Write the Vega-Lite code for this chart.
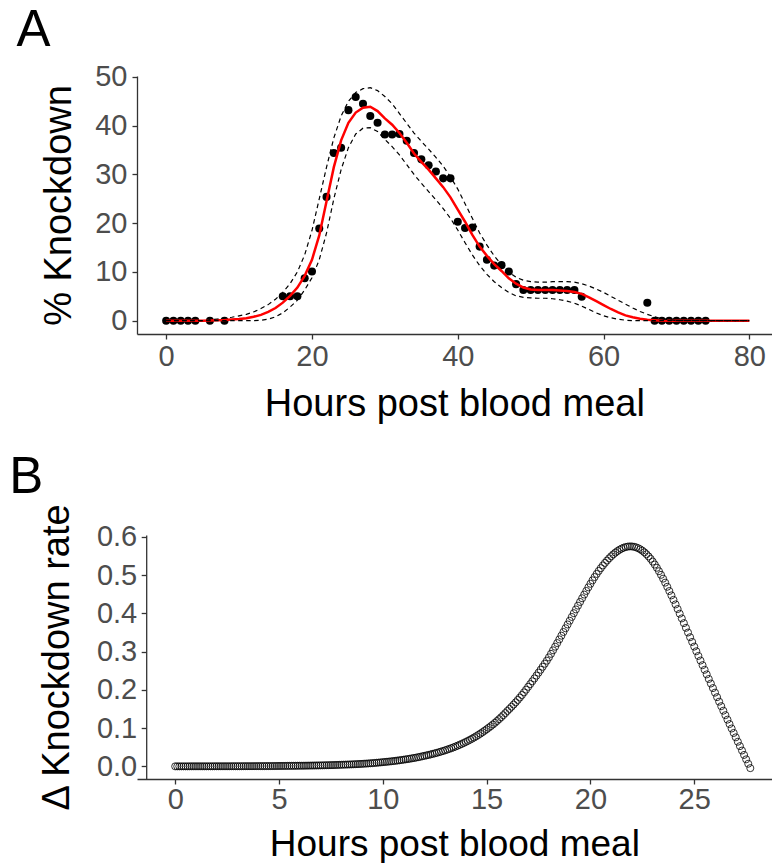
{
"$schema": "https://vega.github.io/schema/vega-lite/v6.json",
"background": "white",
"padding": {"left": 9, "top": 4, "right": 0, "bottom": 0},
"spacing": 28,
"config": {
 "view": {"stroke": null},
 "axis": {"labelFont": "Liberation Sans", "titleFont": "Liberation Sans", "labelFontSize": 29, "titleFontSize": 38, "titleFontWeight": "normal", "labelColor": "#4d4d4d", "titleColor": "#000000", "domainColor": "#333333", "tickColor": "#333333", "domainWidth": 1.3, "tickWidth": 1.3, "tickSize": 5, "grid": false, "labelOverlap": false, "labelFlush": false}
},
"datasets": {
 "kd_obs": [
  {"h":0,"kd":0},{"h":1,"kd":0},{"h":2,"kd":0},{"h":3,"kd":0},{"h":4,"kd":0},{"h":6,"kd":0},{"h":8,"kd":0},
  {"h":16,"kd":5},{"h":17,"kd":5},{"h":18,"kd":5},{"h":19,"kd":8.7},{"h":20,"kd":10.1},{"h":21,"kd":18.9},{"h":22,"kd":25.4},
  {"h":23,"kd":34.4},{"h":24,"kd":35.5},{"h":25,"kd":43.2},{"h":26,"kd":45.9},{"h":27,"kd":44.5},{"h":28,"kd":42},{"h":29,"kd":40.6},
  {"h":30,"kd":38.2},{"h":31,"kd":38.2},{"h":32,"kd":38.3},{"h":33,"kd":36.9},{"h":34,"kd":34.4},{"h":35,"kd":33.1},{"h":36,"kd":31.9},
  {"h":37,"kd":30.6},{"h":38,"kd":29.2},{"h":39,"kd":29.2},{"h":40,"kd":20.3},{"h":41,"kd":19.0},{"h":42,"kd":19.1},{"h":43,"kd":15.2},
  {"h":44,"kd":12.5},{"h":45,"kd":11.3},{"h":46,"kd":11.4},{"h":47,"kd":10.1},{"h":48,"kd":7.5},{"h":49,"kd":6.3},{"h":50,"kd":6.3},
  {"h":51,"kd":6.3},{"h":52,"kd":6.3},{"h":53,"kd":6.3},{"h":54,"kd":6.3},{"h":55,"kd":6.3},{"h":56,"kd":6.3},{"h":57,"kd":4.9},
  {"h":66,"kd":3.7},{"h":67,"kd":0},{"h":68,"kd":0},{"h":69,"kd":0},{"h":70,"kd":0},{"h":71,"kd":0},{"h":72,"kd":0},{"h":73,"kd":0},{"h":74,"kd":0}
 ],
 "kd_fit": [
  {"h":0,"fit":0,"lo":0,"hi":0},{"h":1,"fit":0,"lo":0,"hi":0},{"h":2,"fit":0,"lo":0,"hi":0},{"h":3,"fit":0,"lo":0,"hi":0},
  {"h":4,"fit":0,"lo":0,"hi":0},{"h":5,"fit":0,"lo":0,"hi":0},{"h":6,"fit":0.05,"lo":0,"hi":0.2},{"h":7,"fit":0.1,"lo":0,"hi":0.35},
  {"h":8,"fit":0.15,"lo":0,"hi":0.5},{"h":9,"fit":0.25,"lo":0,"hi":0.7},{"h":10,"fit":0.35,"lo":0,"hi":1.0},{"h":11,"fit":0.5,"lo":0,"hi":1.3},
  {"h":12,"fit":0.8,"lo":0,"hi":1.8},{"h":13,"fit":1.2,"lo":0.1,"hi":2.5},{"h":14,"fit":1.8,"lo":0.3,"hi":3.3},{"h":15,"fit":2.6,"lo":0.8,"hi":4.4},
  {"h":16,"fit":3.7,"lo":1.6,"hi":5.8},{"h":17,"fit":5.1,"lo":2.8,"hi":7.6},{"h":18,"fit":6.8,"lo":4.2,"hi":10.0},{"h":19,"fit":9.2,"lo":6.3,"hi":13.5},
  {"h":20,"fit":12.5,"lo":8.8,"hi":18.5},{"h":21,"fit":17.5,"lo":12.5,"hi":25},{"h":22,"fit":24.5,"lo":18,"hi":31.5},{"h":23,"fit":31.5,"lo":25,"hi":37.5},
  {"h":24,"fit":37,"lo":31,"hi":42},{"h":25,"fit":40.6,"lo":35.5,"hi":45},{"h":26,"fit":42.7,"lo":38.3,"hi":46.8},{"h":27,"fit":43.7,"lo":39.5,"hi":47.6},
  {"h":28,"fit":43.9,"lo":39.6,"hi":47.8},{"h":29,"fit":43,"lo":38.8,"hi":47.2},{"h":30,"fit":41.5,"lo":37.2,"hi":46},{"h":31,"fit":40.2,"lo":35.7,"hi":44.5},
  {"h":32,"fit":38.5,"lo":34,"hi":42.5},{"h":33,"fit":36.5,"lo":32,"hi":40.5},{"h":34,"fit":34.3,"lo":30,"hi":38.5},{"h":35,"fit":32.6,"lo":28.2,"hi":36.8},
  {"h":36,"fit":31.0,"lo":26.5,"hi":35.2},{"h":37,"fit":29.2,"lo":24.8,"hi":33.5},{"h":38,"fit":27.4,"lo":23,"hi":31.7},{"h":39,"fit":25.3,"lo":21,"hi":29.5},
  {"h":40,"fit":22.8,"lo":18.6,"hi":27},{"h":41,"fit":20.3,"lo":16,"hi":24},{"h":42,"fit":17.6,"lo":13.5,"hi":21},{"h":43,"fit":15.2,"lo":11.3,"hi":18},
  {"h":44,"fit":13.3,"lo":9.5,"hi":15.5},{"h":45,"fit":11.6,"lo":8.0,"hi":13.3},{"h":46,"fit":10.2,"lo":6.8,"hi":11.5},{"h":47,"fit":8.7,"lo":5.8,"hi":10},
  {"h":48,"fit":7.6,"lo":5.1,"hi":8.9},{"h":49,"fit":6.8,"lo":4.8,"hi":8.3},{"h":50,"fit":6.4,"lo":4.7,"hi":8.0},{"h":51,"fit":6.3,"lo":4.6,"hi":7.9},
  {"h":52,"fit":6.3,"lo":4.6,"hi":7.9},{"h":53,"fit":6.3,"lo":4.5,"hi":8.0},{"h":54,"fit":6.2,"lo":4.3,"hi":8.0},{"h":55,"fit":6.1,"lo":4.0,"hi":8.0},
  {"h":56,"fit":5.9,"lo":3.6,"hi":7.9},{"h":57,"fit":5.5,"lo":3.0,"hi":7.6},{"h":58,"fit":4.8,"lo":2.3,"hi":7.1},{"h":59,"fit":4.0,"lo":1.6,"hi":6.5},
  {"h":60,"fit":3.2,"lo":1.0,"hi":5.8},{"h":61,"fit":2.4,"lo":0.6,"hi":5.0},{"h":62,"fit":1.7,"lo":0.3,"hi":4.2},{"h":63,"fit":1.1,"lo":0.1,"hi":3.4},
  {"h":64,"fit":0.7,"lo":0,"hi":2.6},{"h":65,"fit":0.4,"lo":0,"hi":1.9},{"h":66,"fit":0.2,"lo":0,"hi":1.3},{"h":67,"fit":0.1,"lo":0,"hi":0.8},
  {"h":68,"fit":0,"lo":0,"hi":0.4},{"h":69,"fit":0,"lo":0,"hi":0.2},{"h":70,"fit":0,"lo":0,"hi":0},{"h":71,"fit":0,"lo":0,"hi":0},
  {"h":72,"fit":0,"lo":0,"hi":0},{"h":73,"fit":0,"lo":0,"hi":0},{"h":74,"fit":0,"lo":0,"hi":0},{"h":75,"fit":0,"lo":0,"hi":0},
  {"h":76,"fit":0,"lo":0,"hi":0},{"h":77,"fit":0,"lo":0,"hi":0},{"h":78,"fit":0,"lo":0,"hi":0},{"h":79,"fit":0,"lo":0,"hi":0},{"h":80,"fit":0,"lo":0,"hi":0}
 ],
 "rate": [
  {"h":0.0,"r":0.0001},{"h":0.1,"r":0.0001},{"h":0.2,"r":0.0001},{"h":0.3,"r":0.0001},{"h":0.4,"r":0.0001},{"h":0.5,"r":0.0001},{"h":0.6,"r":0.0001},{"h":0.7,"r":0.0002},{"h":0.8,"r":0.0002},{"h":0.9,"r":0.0002},
  {"h":1.0,"r":0.0002},{"h":1.1,"r":0.0002},{"h":1.2,"r":0.0002},{"h":1.3,"r":0.0002},{"h":1.4,"r":0.0002},{"h":1.5,"r":0.0002},{"h":1.6,"r":0.0002},{"h":1.7,"r":0.0002},{"h":1.8,"r":0.0002},{"h":1.9,"r":0.0003},
  {"h":2.0,"r":0.0003},{"h":2.1,"r":0.0003},{"h":2.2,"r":0.0003},{"h":2.3,"r":0.0003},{"h":2.4,"r":0.0003},{"h":2.5,"r":0.0003},{"h":2.6,"r":0.0003},{"h":2.7,"r":0.0004},{"h":2.8,"r":0.0004},{"h":2.9,"r":0.0004},
  {"h":3.0,"r":0.0004},{"h":3.1,"r":0.0004},{"h":3.2,"r":0.0004},{"h":3.3,"r":0.0005},{"h":3.4,"r":0.0005},{"h":3.5,"r":0.0005},{"h":3.6,"r":0.0005},{"h":3.7,"r":0.0005},{"h":3.8,"r":0.0006},{"h":3.9,"r":0.0006},
  {"h":4.0,"r":0.0007},{"h":4.1,"r":0.0007},{"h":4.2,"r":0.0007},{"h":4.3,"r":0.0007},{"h":4.4,"r":0.0008},{"h":4.5,"r":0.0008},{"h":4.6,"r":0.0008},{"h":4.7,"r":0.0009},{"h":4.8,"r":0.0009},{"h":4.9,"r":0.0010},
  {"h":5.0,"r":0.0011},{"h":5.1,"r":0.0011},{"h":5.2,"r":0.0012},{"h":5.3,"r":0.0012},{"h":5.4,"r":0.0013},{"h":5.5,"r":0.0013},{"h":5.6,"r":0.0014},{"h":5.7,"r":0.0014},{"h":5.8,"r":0.0015},{"h":5.9,"r":0.0016},
  {"h":6.0,"r":0.0017},{"h":6.1,"r":0.0017},{"h":6.2,"r":0.0018},{"h":6.3,"r":0.0019},{"h":6.4,"r":0.0020},{"h":6.5,"r":0.0021},{"h":6.6,"r":0.0022},{"h":6.7,"r":0.0023},{"h":6.8,"r":0.0024},{"h":6.9,"r":0.0025},
  {"h":7.0,"r":0.0026},{"h":7.1,"r":0.0027},{"h":7.2,"r":0.0029},{"h":7.3,"r":0.0030},{"h":7.4,"r":0.0031},{"h":7.5,"r":0.0033},{"h":7.6,"r":0.0034},{"h":7.7,"r":0.0036},{"h":7.8,"r":0.0038},{"h":7.9,"r":0.0040},
  {"h":8.0,"r":0.0042},{"h":8.1,"r":0.0044},{"h":8.2,"r":0.0046},{"h":8.3,"r":0.0048},{"h":8.4,"r":0.0050},{"h":8.5,"r":0.0052},{"h":8.6,"r":0.0055},{"h":8.7,"r":0.0057},{"h":8.8,"r":0.0060},{"h":8.9,"r":0.0063},
  {"h":9.0,"r":0.0066},{"h":9.1,"r":0.0070},{"h":9.2,"r":0.0073},{"h":9.3,"r":0.0077},{"h":9.4,"r":0.0081},{"h":9.5,"r":0.0085},{"h":9.6,"r":0.0089},{"h":9.7,"r":0.0094},{"h":9.8,"r":0.0099},{"h":9.9,"r":0.0104},
  {"h":10.0,"r":0.0110},{"h":10.1,"r":0.0115},{"h":10.2,"r":0.0121},{"h":10.3,"r":0.0126},{"h":10.4,"r":0.0132},{"h":10.5,"r":0.0138},{"h":10.6,"r":0.0145},{"h":10.7,"r":0.0152},{"h":10.8,"r":0.0159},{"h":10.9,"r":0.0167},
  {"h":11.0,"r":0.0175},{"h":11.1,"r":0.0183},{"h":11.2,"r":0.0191},{"h":11.3,"r":0.0200},{"h":11.4,"r":0.0210},{"h":11.5,"r":0.0219},{"h":11.6,"r":0.0229},{"h":11.7,"r":0.0240},{"h":11.8,"r":0.0251},{"h":11.9,"r":0.0263},
  {"h":12.0,"r":0.0275},{"h":12.1,"r":0.0287},{"h":12.2,"r":0.0299},{"h":12.3,"r":0.0312},{"h":12.4,"r":0.0326},{"h":12.5,"r":0.0340},{"h":12.6,"r":0.0354},{"h":12.7,"r":0.0370},{"h":12.8,"r":0.0386},{"h":12.9,"r":0.0402},
  {"h":13.0,"r":0.0420},{"h":13.1,"r":0.0438},{"h":13.2,"r":0.0457},{"h":13.3,"r":0.0476},{"h":13.4,"r":0.0497},{"h":13.5,"r":0.0518},{"h":13.6,"r":0.0541},{"h":13.7,"r":0.0564},{"h":13.8,"r":0.0588},{"h":13.9,"r":0.0613},
  {"h":14.0,"r":0.0640},{"h":14.1,"r":0.0667},{"h":14.2,"r":0.0696},{"h":14.3,"r":0.0725},{"h":14.4,"r":0.0756},{"h":14.5,"r":0.0788},{"h":14.6,"r":0.0822},{"h":14.7,"r":0.0857},{"h":14.8,"r":0.0893},{"h":14.9,"r":0.0931},
  {"h":15.0,"r":0.0970},{"h":15.1,"r":0.1010},{"h":15.2,"r":0.1051},{"h":15.3,"r":0.1094},{"h":15.4,"r":0.1139},{"h":15.5,"r":0.1186},{"h":15.6,"r":0.1235},{"h":15.7,"r":0.1285},{"h":15.8,"r":0.1338},{"h":15.9,"r":0.1393},
  {"h":16.0,"r":0.1450},{"h":16.1,"r":0.1503},{"h":16.2,"r":0.1559},{"h":16.3,"r":0.1616},{"h":16.4,"r":0.1675},{"h":16.5,"r":0.1737},{"h":16.6,"r":0.1800},{"h":16.7,"r":0.1866},{"h":16.8,"r":0.1935},{"h":16.9,"r":0.2006},
  {"h":17.0,"r":0.2080},{"h":17.1,"r":0.2152},{"h":17.2,"r":0.2225},{"h":17.3,"r":0.2299},{"h":17.4,"r":0.2374},{"h":17.5,"r":0.2450},{"h":17.6,"r":0.2527},{"h":17.7,"r":0.2605},{"h":17.8,"r":0.2684},{"h":17.9,"r":0.2764},
  {"h":18.0,"r":0.2850},{"h":18.1,"r":0.2942},{"h":18.2,"r":0.3035},{"h":18.3,"r":0.3129},{"h":18.4,"r":0.3224},{"h":18.5,"r":0.3320},{"h":18.6,"r":0.3417},{"h":18.7,"r":0.3514},{"h":18.8,"r":0.3612},{"h":18.9,"r":0.3710},
  {"h":19.0,"r":0.3808},{"h":19.1,"r":0.3907},{"h":19.2,"r":0.4006},{"h":19.3,"r":0.4104},{"h":19.4,"r":0.4202},{"h":19.5,"r":0.4299},{"h":19.6,"r":0.4396},{"h":19.7,"r":0.4492},{"h":19.8,"r":0.4587},{"h":19.9,"r":0.4681},
  {"h":20.0,"r":0.4774},{"h":20.1,"r":0.4864},{"h":20.2,"r":0.4950},{"h":20.3,"r":0.5032},{"h":20.4,"r":0.5110},{"h":20.5,"r":0.5184},{"h":20.6,"r":0.5254},{"h":20.7,"r":0.5320},{"h":20.8,"r":0.5382},{"h":20.9,"r":0.5440},
  {"h":21.0,"r":0.5494},{"h":21.1,"r":0.5544},{"h":21.2,"r":0.5589},{"h":21.3,"r":0.5629},{"h":21.4,"r":0.5664},{"h":21.5,"r":0.5694},{"h":21.6,"r":0.5718},{"h":21.7,"r":0.5736},{"h":21.8,"r":0.5747},{"h":21.9,"r":0.5752},
  {"h":22.0,"r":0.5750},{"h":22.1,"r":0.5742},{"h":22.2,"r":0.5727},{"h":22.3,"r":0.5705},{"h":22.4,"r":0.5676},{"h":22.5,"r":0.5640},{"h":22.6,"r":0.5597},{"h":22.7,"r":0.5547},{"h":22.8,"r":0.5490},{"h":22.9,"r":0.5426},
  {"h":23.0,"r":0.5355},{"h":23.1,"r":0.5277},{"h":23.2,"r":0.5193},{"h":23.3,"r":0.5103},{"h":23.4,"r":0.5008},{"h":23.5,"r":0.4908},{"h":23.6,"r":0.4804},{"h":23.7,"r":0.4696},{"h":23.8,"r":0.4585},{"h":23.9,"r":0.4471},
  {"h":24.0,"r":0.4354},{"h":24.1,"r":0.4235},{"h":24.2,"r":0.4114},{"h":24.3,"r":0.3992},{"h":24.4,"r":0.3869},{"h":24.5,"r":0.3746},{"h":24.6,"r":0.3623},{"h":24.7,"r":0.3500},{"h":24.8,"r":0.3377},{"h":24.9,"r":0.3254},
  {"h":25.0,"r":0.3132},{"h":25.1,"r":0.3010},{"h":25.2,"r":0.2888},{"h":25.3,"r":0.2767},{"h":25.4,"r":0.2646},{"h":25.5,"r":0.2525},{"h":25.6,"r":0.2405},{"h":25.7,"r":0.2285},{"h":25.8,"r":0.2166},{"h":25.9,"r":0.2047},
  {"h":26.0,"r":0.1928},{"h":26.1,"r":0.1810},{"h":26.2,"r":0.1692},{"h":26.3,"r":0.1574},{"h":26.4,"r":0.1456},{"h":26.5,"r":0.1339},{"h":26.6,"r":0.1222},{"h":26.7,"r":0.1106},{"h":26.8,"r":0.0990},{"h":26.9,"r":0.0874},
  {"h":27.0,"r":0.0759},{"h":27.1,"r":0.0644},{"h":27.2,"r":0.0529},{"h":27.3,"r":0.0414},{"h":27.4,"r":0.0299},{"h":27.5,"r":0.0184},{"h":27.6,"r":0.0069},{"h":27.7,"r":-0.0046}
 ]
},
"vconcat": [
 {
  "title": {"text": "A", "anchor": "start", "fontSize": 51, "font": "Liberation Sans", "fontWeight": "normal", "color": "#000000", "dx": -24.3, "offset": 6},
  "width": 634.7, "height": 258,
  "layer": [
   {"data": {"name": "kd_obs"}, "mark": {"type": "circle", "size": 65, "color": "#000000", "opacity": 1},
    "encoding": {
     "x": {"field": "h", "type": "quantitative", "title": "Hours post blood meal", "scale": {"domain": [-4, 83.06], "nice": false, "zero": false}, "axis": {"values": [0,20,40,60,80], "labelPadding": 3, "titlePadding": 14}},
     "y": {"field": "kd", "type": "quantitative", "title": "% Knockdown", "scale": {"domain": [-2.73, 50.2], "nice": false, "zero": false}, "axis": {"values": [0,10,20,30,40,50], "labelPadding": 5, "titlePadding": 16}}
    }},
   {"data": {"name": "kd_fit"}, "mark": {"type": "line", "color": "#ff0000", "strokeWidth": 2.5},
    "encoding": {"x": {"field": "h", "type": "quantitative", "title": "Hours post blood meal"}, "y": {"field": "fit", "type": "quantitative", "title": "% Knockdown"}}},
   {"data": {"name": "kd_fit"}, "mark": {"type": "line", "color": "#000000", "strokeWidth": 1.2, "strokeDash": [4.5, 3.5]},
    "encoding": {"x": {"field": "h", "type": "quantitative", "title": "Hours post blood meal"}, "y": {"field": "lo", "type": "quantitative", "title": "% Knockdown"}}},
   {"data": {"name": "kd_fit"}, "mark": {"type": "line", "color": "#000000", "strokeWidth": 1.2, "strokeDash": [4.5, 3.5]},
    "encoding": {"x": {"field": "h", "type": "quantitative", "title": "Hours post blood meal"}, "y": {"field": "hi", "type": "quantitative", "title": "% Knockdown"}}}
  ]
 },
 {
  "title": {"text": "B", "anchor": "start", "fontSize": 51, "font": "Liberation Sans", "fontWeight": "normal", "color": "#000000", "dx": -29.2, "offset": -1},
  "width": 634.7, "height": 244,
  "data": {"name": "rate"},
  "mark": {"type": "point", "shape": "circle", "filled": false, "size": 50, "color": "#000000", "strokeWidth": 0.8, "opacity": 1},
  "encoding": {
   "x": {"field": "h", "type": "quantitative", "title": "Hours post blood meal", "scale": {"domain": [-1.84, 28.73], "nice": false, "zero": false}, "axis": {"values": [0,5,10,15,20,25], "labelPadding": 2, "titlePadding": 12, "titleFontSize": 37}},
   "y": {"field": "r", "type": "quantitative", "title": "Δ Knockdown rate", "scale": {"domain": [-0.033, 0.605], "nice": false, "zero": false}, "axis": {"values": [0,0.1,0.2,0.3,0.4,0.5,0.6], "format": ".1f", "offset": -9.2, "labelPadding": 4.5, "titlePadding": 20}}
  }
 }
]
}
